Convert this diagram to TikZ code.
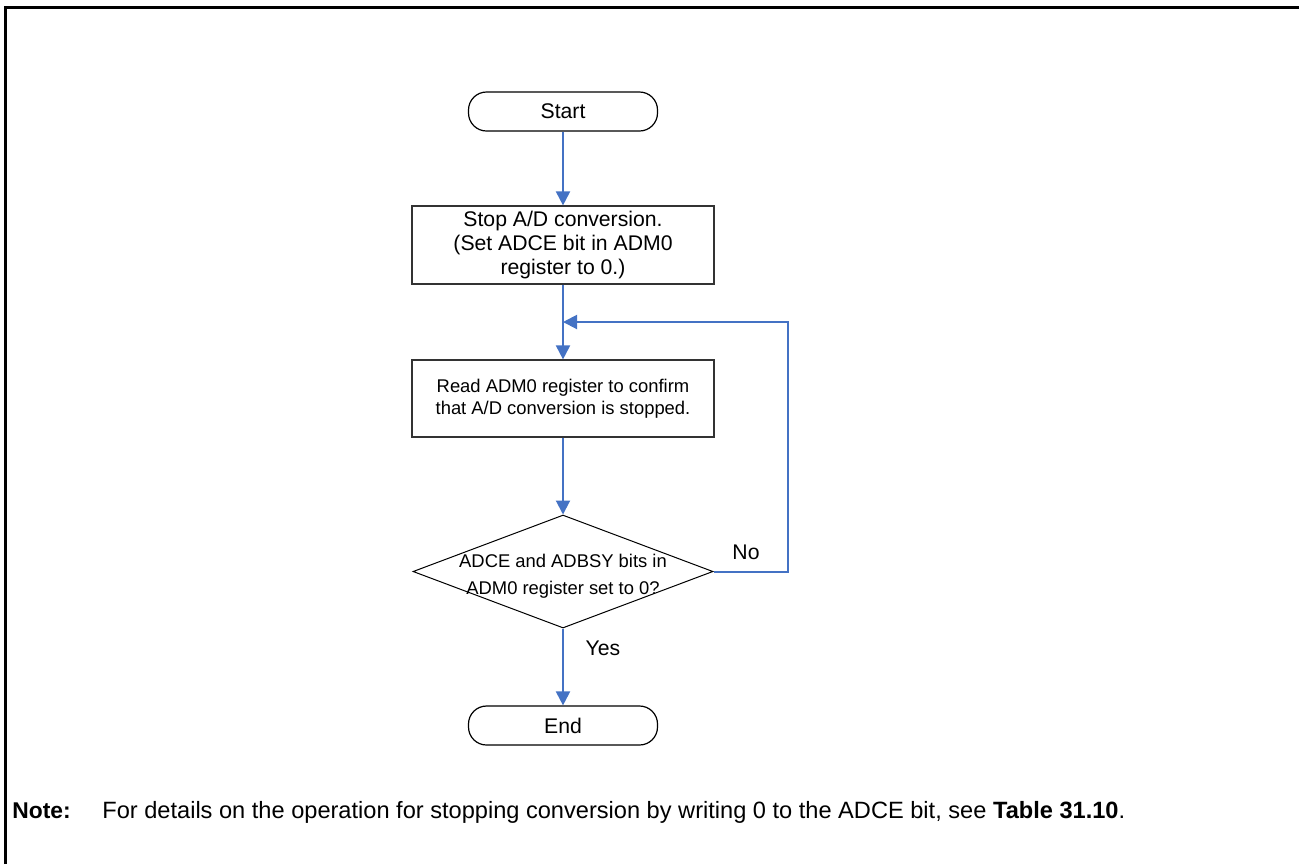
\documentclass[tikz,border=0pt]{standalone}
\usepackage{fontspec}
\setmainfont{Liberation Sans}
\usepackage{xcolor}
\usetikzlibrary{shapes.geometric, arrows.meta, positioning}
\definecolor{flowblue}{RGB}{68,114,196}

\begin{document}
\begin{tikzpicture}[
    x=0.5pt, y=-0.5pt,
    terminal/.style={rectangle, rounded corners=9pt, draw=black, line width=0.6pt, fill=white, inner sep=0pt, minimum width=94.5pt, minimum height=19.5pt, font=\fontsize{10.6}{12.5}\selectfont},
    process/.style={rectangle, draw=black!80, line width=0.6pt, fill=white, inner sep=0pt, minimum width=151pt, align=center},
    decision/.style={diamond, draw=black, line width=0.5pt, inner sep=0pt, minimum width=150pt, minimum height=56.5pt},
    flow/.style={-{Triangle[length=7pt, width=7pt]}, draw=flowblue, line width=1pt},
    branch_label/.style={inner sep=0pt, font=\fontsize{10.6}{12.5}\selectfont},
    note_text/.style={inner sep=0pt, anchor=base west, font=\fontsize{11.8}{14}\selectfont},
    frame/.style={draw=black, line width=1.5pt}
]
    \useasboundingbox (0,0) rectangle (1299,864);

    % --- Outer frame (top and left only) ---
    \draw[frame] (5,864) -- (5,7) -- (1299,7);

    % --- Flow steps ---
    \node[terminal] (start) at (563,111.5) {Start};
    \node[process, minimum height=39pt, font=\fontsize{10.6}{12}\selectfont] (stopad) at (563,245)
        {Stop A/D conversion.\\(Set ADCE bit in ADM0\\register to 0.)};
    \node[process, minimum height=38.5pt, font=\fontsize{9.2}{11}\selectfont] (readadm) at (563,398.5)
        {Read ADM0 register to confirm\\that A/D conversion is stopped.};
    \node[decision] (check) at (563,571.5) {};
    \node[inner sep=0pt, align=center, font=\fontsize{9.2}{13.5}\selectfont] (checktext) at (563,576)
        {ADCE and ADBSY bits in\\ADM0 register set to 0?};
    \node[terminal] (finish) at (563,725.5) {End};

    % --- Loop entry point ---
    \coordinate (merge) at (563,322);
    \coordinate (loopcorner) at (788,322);

    % --- Connectors ---
    \draw[flow] (start) -- (stopad);
    \draw[flow] (stopad) -- (readadm);
    \draw[flow] (readadm) -- (check);
    \draw[flow] (check) -- (finish);
    \draw[flow] (check.east) -| (loopcorner) -- (merge); % No: back to read

    % --- Branch labels ---
    \node[branch_label] (nolabel) at (746,552) {No};
    \node[branch_label] (yeslabel) at (603,648) {Yes};

    % --- Note ---
    \node[note_text, font=\fontsize{11.4}{14}\selectfont\bfseries] (notehead) at (12,818) {Note:};
    \node[note_text] (notebody) at (102,818)
        {For details on the operation for stopping conversion by writing 0 to the ADCE bit, see \textbf{Table 31.10}.};

\end{tikzpicture}
\end{document}
